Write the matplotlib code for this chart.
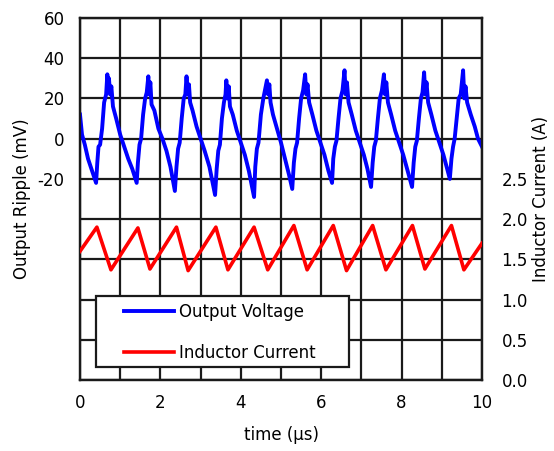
import matplotlib
matplotlib.use('Agg')
import matplotlib.pyplot as plt
from matplotlib.patches import Rectangle

# Output voltage ripple (mV), cycle by cycle
volt_t = [0.00, 0.05, 0.12, 0.20, 0.30, 0.40,
          0.43, 0.46, 0.50, 0.55, 0.60, 0.65, 0.68, 0.70, 0.72, 0.75, 0.78, 0.82, 0.90, 1.00, 1.10, 1.20, 1.30, 1.41,
          1.44, 1.48, 1.52, 1.57, 1.62, 1.66, 1.70, 1.72, 1.75, 1.78, 1.85, 1.95, 2.05, 2.15, 2.25, 2.36,
          2.40, 2.44, 2.48, 2.53, 2.58, 2.62, 2.65, 2.68, 2.71, 2.74, 2.80, 2.90, 3.00, 3.10, 3.22, 3.36,
          3.40, 3.44, 3.48, 3.53, 3.58, 3.62, 3.64, 3.67, 3.70, 3.73, 3.80, 3.90, 4.00, 4.10, 4.20, 4.33,
          4.36, 4.40, 4.44, 4.50, 4.56, 4.60, 4.65, 4.68, 4.71, 4.74, 4.80, 4.90, 5.00, 5.10, 5.20, 5.28,
          5.32, 5.36, 5.40, 5.45, 5.50, 5.55, 5.60, 5.63, 5.66, 5.70, 5.78, 5.88, 5.98, 6.08, 6.18, 6.27,
          6.30, 6.34, 6.38, 6.43, 6.48, 6.53, 6.58, 6.61, 6.64, 6.68, 6.76, 6.86, 6.96, 7.06, 7.15, 7.24,
          7.28, 7.32, 7.36, 7.41, 7.46, 7.51, 7.56, 7.59, 7.62, 7.66, 7.74, 7.84, 7.94, 8.04, 8.15, 8.26,
          8.30, 8.34, 8.38, 8.43, 8.48, 8.52, 8.56, 8.59, 8.62, 8.66, 8.74, 8.84, 8.94, 9.04, 9.12, 9.20,
          9.24, 9.28, 9.32, 9.37, 9.42, 9.47, 9.53, 9.56, 9.59, 9.63, 9.72, 9.82, 9.90, 10.0]
volt_mv = [12, 2, -3, -10, -16, -22,
           -12, -4, -3, 5, 18, 22, 32, 24, 30, 22, 26, 16, 10, 2, -4, -10, -15, -22,
           -12, -3, 0, 12, 20, 23, 31, 22, 28, 17, 14, 5, 0, -6, -14, -26,
           -14, -5, -2, 10, 20, 22, 31, 22, 27, 18, 14, 6, 0, -6, -14, -28,
           -15, -6, -3, 10, 18, 22, 29, 20, 26, 16, 12, 4, -2, -8, -16, -29,
           -14, -5, -2, 12, 20, 24, 29, 22, 27, 18, 12, 5, -2, -10, -18, -25,
           -12, -5, -2, 10, 20, 24, 32, 22, 27, 18, 12, 4, -2, -8, -16, -22,
           -10, -4, -1, 10, 20, 24, 34, 22, 28, 18, 12, 4, -2, -8, -15, -24,
           -12, -4, -1, 10, 20, 24, 32, 22, 28, 18, 12, 4, -2, -8, -16, -24,
           -12, -4, -1, 10, 20, 23, 33, 22, 28, 18, 12, 4, -2, -8, -14, -20,
           -10, -4, 0, 10, 20, 22, 34, 20, 26, 18, 12, 6, 0, -4]

# Inductor current (A), peaks and valleys
cur_t = [0.00, 0.42, 0.77, 1.44, 1.74, 2.40, 2.69, 3.38, 3.68, 4.33, 4.67,
         5.32, 5.65, 6.30, 6.63, 7.28, 7.61, 8.27, 8.58, 9.24, 9.55, 10.0]
cur_a = [1.60, 1.90, 1.37, 1.89, 1.38, 1.90, 1.36, 1.90, 1.37, 1.90, 1.37,
         1.92, 1.37, 1.92, 1.36, 1.92, 1.37, 1.92, 1.38, 1.92, 1.37, 1.70]

x_labels = [0, 2, 4, 6, 8, 10]
left_labels = [60, 40, 20, 0, -20]
right_labels = [0.0, 0.5, 1.0, 1.5, 2.0, 2.5]

plt.rcParams['font.family'] = 'DejaVu Sans'
fs = 12

fig = plt.figure(figsize=(5.54, 4.51), dpi=100)
ax = fig.add_axes([80 / 554, 1 - 380 / 451, 402 / 554, 362 / 451])
ax2 = ax.twinx()

ax.set_xlim(0, 10)
ax.set_ylim(-120, 60)
ax2.set_ylim(0, 4.5)

ax.set_xticks(x_labels)
ax.set_xticks(range(0, 11), minor=True)
ax.set_xticklabels([str(v) for v in x_labels], fontsize=fs)
ax.set_yticks(range(-120, 61, 20))
ax.set_yticklabels([str(v) if v in left_labels else '' for v in range(-120, 61, 20)], fontsize=fs)
ax2.set_yticks(right_labels)
ax2.set_yticklabels(['%.1f' % v for v in right_labels], fontsize=fs)

ax.tick_params(axis='both', which='both', length=0)
ax.tick_params(axis='x', pad=10)
ax.tick_params(axis='y', pad=11)
ax2.tick_params(axis='y', length=0, pad=14)

ax.grid(True, which='both', color='#1a1a1a', linewidth=1.6)
for a in (ax, ax2):
    for s in a.spines.values():
        s.set_color('#1a1a1a')
        s.set_linewidth(1.6)

l1, = ax.plot(volt_t, volt_mv, color='#0000ff', linewidth=2.8, label='Output Voltage', zorder=3)
l2, = ax2.plot(cur_t, cur_a, color='#ff0000', linewidth=2.6, label='Inductor Current', zorder=3)

ax.set_xlabel('time (µs)', fontsize=fs, labelpad=10)
ax.set_ylabel('Output Ripple (mV)', fontsize=fs, labelpad=5)
ax2.set_ylabel('Inductor Current (A)', fontsize=fs, labelpad=3)

# legend box
box = Rectangle((16 / 402, 13 / 362), 253 / 402, 71 / 362, transform=ax2.transAxes,
                facecolor='white', edgecolor='#1a1a1a', linewidth=1.6, zorder=4)
ax2.add_patch(box)
leg = ax2.legend([l1, l2], ['Output Voltage', 'Inductor Current'], loc='upper left',
                 bbox_to_anchor=(44 / 402, 77 / 362), frameon=False, fontsize=fs,
                 handlelength=3.0, handletextpad=0.3, labelspacing=1.35, borderaxespad=0,
                 borderpad=0)
leg.set_zorder(5)

fig.savefig('out.png', dpi=100)
